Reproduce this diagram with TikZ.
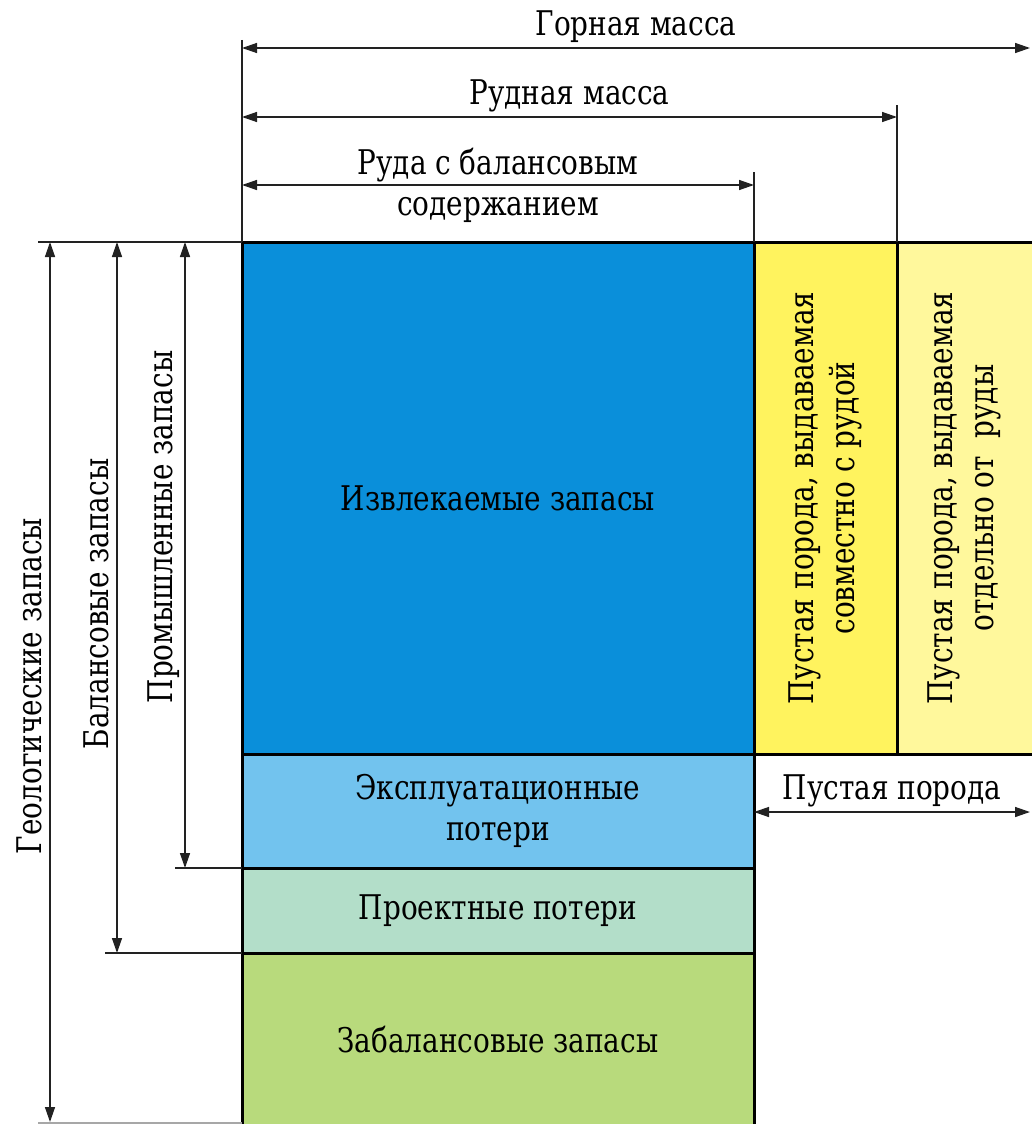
\documentclass[tikz,border=0pt]{standalone}
\usepackage{fontspec}
\setmainfont{DejaVu Serif}
\newfontfamily\rmtimes{DejaVu Serif}[FakeStretch=0.82]
\usetikzlibrary{positioning,arrows.meta,calc}
\usepackage{xcolor}

\definecolor{izvlblue}{HTML}{0A8FDA}
\definecolor{explblue}{HTML}{72C3EE}
\definecolor{proekmint}{HTML}{B3DEC9}
\definecolor{zabalgreen}{HTML}{B8DA7C}
\definecolor{yelbright}{HTML}{FFF35E}
\definecolor{yelpale}{HTML}{FFF89C}
\definecolor{inkline}{HTML}{222222}

\begin{document}
\begin{tikzpicture}[
        x=1pt, y=-1pt,
        every node/.style={font=\rmtimes\fontsize{34}{41}\selectfont, inner sep=0pt, align=center},
        block/.style={draw=black, line width=3pt, outer sep=0pt, inner sep=0pt, minimum width=512pt},
        guide/.style={draw=inkline, line width=1.4pt},
        dimarrow/.style={{Triangle[length=15pt,width=10pt]}-{Triangle[length=15pt,width=10pt]}, line width=1.4pt, inkline},
        vlabel/.style={rotate=90}
    ]
        \useasboundingbox (0,0) rectangle (1032,1124);

        % Main column of reserves
        \node[block, fill=izvlblue, anchor=north west, minimum height=512pt] (izvl) at (242,242) {Извлекаемые запасы};
        \node[block, fill=explblue, below=0pt of izvl, minimum height=114pt] (expl) {Эксплуатационные\\потери};
        \node[block, fill=proekmint, below=0pt of expl, minimum height=85pt] (proekt) {Проектные потери};
        \node[block, fill=zabalgreen, below=0pt of proekt, minimum height=174pt] (zabal) {Забалансовые запасы};

        % Waste rock columns
        \node[block, fill=yelbright, right=0pt of izvl, minimum width=143pt, minimum height=512pt] (yel1) {};
        \node[block, fill=yelpale, right=0pt of yel1, minimum width=138pt, minimum height=512pt] (yel2) {};
        \node[vlabel] (yel1-txt) at (yel1.center) {Пустая порода, выдаваемая\\совместно с рудой};
        \node[vlabel] (yel2-txt) at ([xshift=-2pt]yel2.center) {Пустая порода, выдаваемая\\отдельно от\ \ руды};

        % Extension lines, top
        \coordinate (ext-a) at (242,40);
        \coordinate (ext-b) at (754,172);
        \coordinate (ext-c) at (897,105);
        \draw[guide] (ext-a) -- (izvl.north west);
        \draw[guide] (ext-b) -- (yel1.north west);
        \draw[guide] (ext-c) -- (yel2.north west);

        % Extension lines, left
        \coordinate (ext-top) at (38,242);
        \coordinate (ext-prom) at (175,868);
        \coordinate (ext-bal) at (105,953);
        \coordinate (ext-bot) at (38,1123);
        \draw[guide] (ext-top) -- (izvl.north west);
        \draw[guide] (ext-prom) -- (proekt.north west);
        \draw[guide] (ext-bal) -- (zabal.north west);
        \draw[guide, inkline!40] (ext-bot) -- (242,1123);

        % Dimension arrows, top
        \coordinate (gm-l) at (242,48);
        \coordinate (gm-r) at (1030,48);
        \coordinate (rm-l) at (242,117);
        \coordinate (rm-r) at (897,117);
        \coordinate (rb-l) at (242,185);
        \coordinate (rb-r) at (754,185);
        \draw[dimarrow] (gm-l) -- (gm-r);
        \draw[dimarrow] (rm-l) -- (rm-r);
        \draw[dimarrow] (rb-l) -- (rb-r);
        \node[above=5pt of {$(gm-l)!0.5!(gm-r)$}] (gm-lbl) {Горная масса};
        \node[above=5pt of {$(rm-l)!0.5!(rm-r)$}] (rm-lbl) {Рудная масса};
        \node (rb-lbl) at ($(rb-l)!0.5!(rb-r)$) {Руда с балансовым\\содержанием};

        % Dimension arrow, waste rock
        \coordinate (pp-l) at (754,812);
        \coordinate (pp-r) at (1030,812);
        \draw[dimarrow] (pp-l) -- (pp-r);
        \node[above=5pt of {$(pp-l)!0.5!(pp-r)$}] (pp-lbl) {Пустая порода};

        % Dimension arrows, left
        \coordinate (geo-t) at (50,242);
        \coordinate (geo-b) at (50,1122);
        \coordinate (bal-t) at (117,242);
        \coordinate (bal-b) at (117,953);
        \coordinate (prom-t) at (185,242);
        \coordinate (prom-b) at (185,868);
        \draw[dimarrow] (geo-t) -- (geo-b);
        \draw[dimarrow] (bal-t) -- (bal-b);
        \draw[dimarrow] (prom-t) -- (prom-b);
        \node[vlabel] (geo-lbl) at (29,686) {Геологические запасы};
        \node[vlabel] (bal-lbl) at (96,604) {Балансовые запасы};
        \node[vlabel] (prom-lbl) at (164,527) {Промышленные запасы};

    \end{tikzpicture}
\end{document}
